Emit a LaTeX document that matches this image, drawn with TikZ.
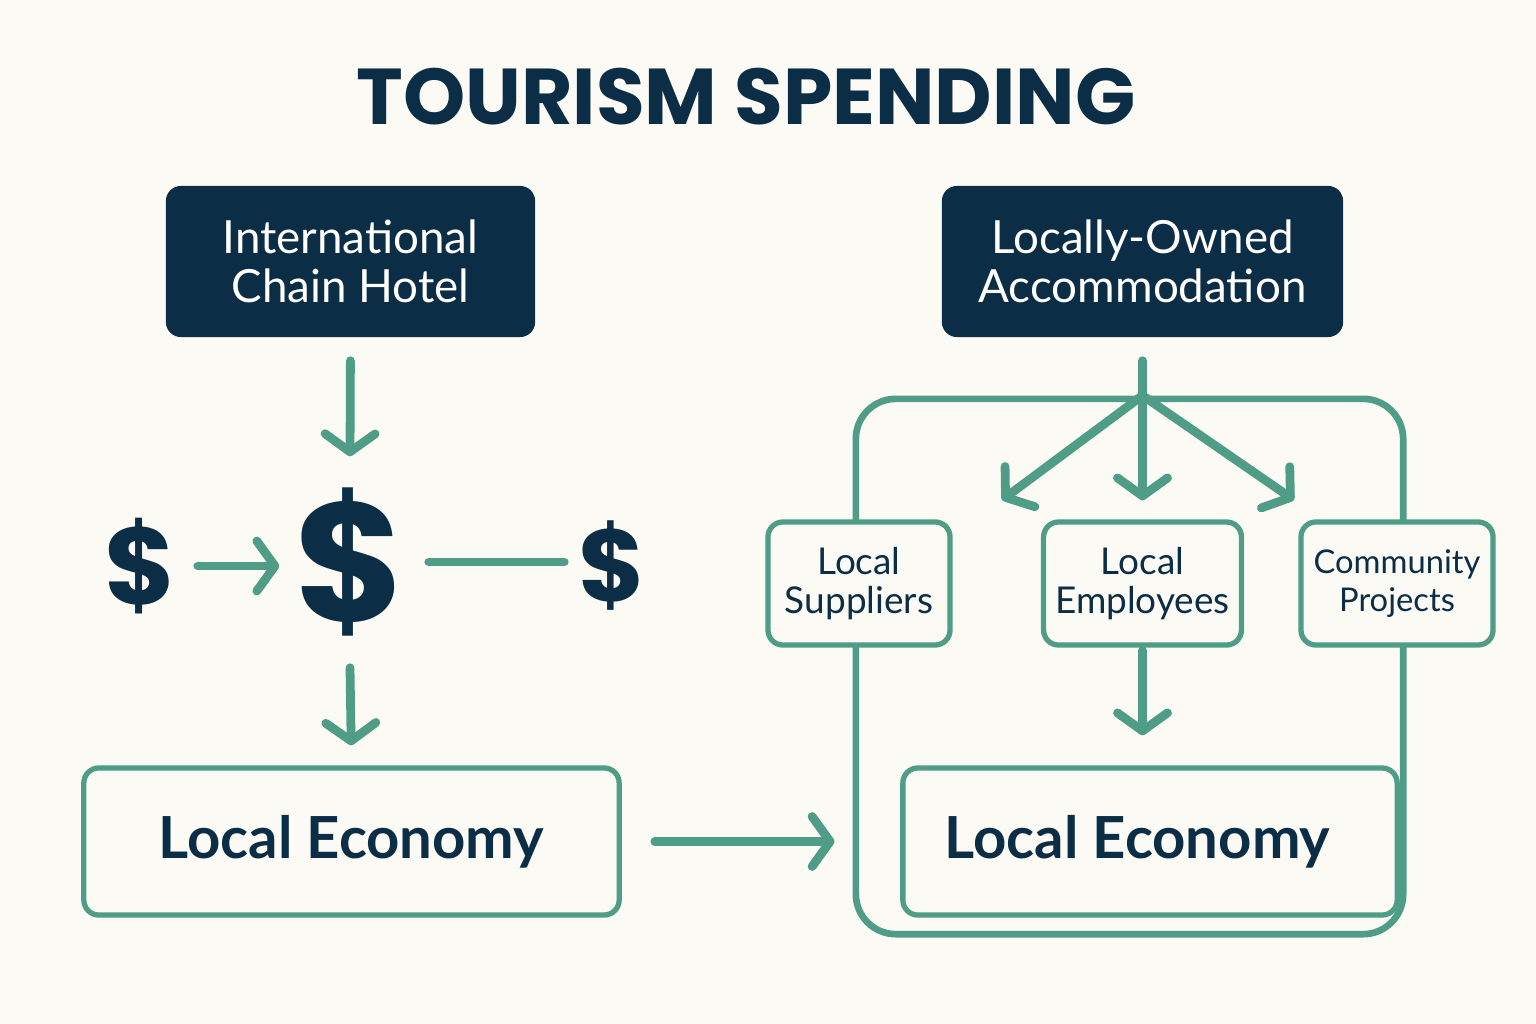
\documentclass[tikz,border=0pt]{standalone}
\usepackage{fontspec}
\setmainfont{Lato}
\newfontfamily\titlefont{Poppins}
\usetikzlibrary{arrows.meta}
\definecolor{navy}{RGB}{11,45,69}
\definecolor{sage}{RGB}{79,157,134}
\definecolor{paper}{RGB}{252,250,244}
\begin{document}
\begin{tikzpicture}[x=0.01cm, y=-0.01cm,
    darkbox/.style={fill=navy, rounded corners=0.15cm, minimum height=1.51cm,
      text=white, align=center, font=\fontsize{13}{14}\selectfont},
    greenbox/.style={draw=sage, fill=paper, line width=1.5pt, rounded corners=0.15cm,
      text=navy, align=center},
    smallbox/.style={greenbox, minimum height=1.23cm, font=\fontsize{10.5}{11}\selectfont},
    econbox/.style={greenbox, minimum height=1.47cm, font=\bfseries\fontsize{16.5}{18}\selectfont},
    dollar/.style={text=navy, inner sep=0pt, font=\titlefont\bfseries},
    link/.style={draw=sage, line width=2.5pt, line cap=round},
    arr/.style={link, -{Straight Barb[length=0.18cm, width=0.5cm, round]}}]

    % Background and page size
    \fill[paper] (0,0) rectangle (1536,1024);
    \useasboundingbox (0,0) rectangle (1536,1024);

    % Title
    \node[text=navy, font=\titlefont\bfseries\fontsize{22.5}{26}\selectfont] (title) at (746,97) {TOURISM SPENDING};

    % Hotel boxes
    \node[darkbox, minimum width=3.69cm] (chain) at (350.5,261.5) {International\\Chain Hotel};
    \node[darkbox, minimum width=4.01cm] (owned) at (1142.5,261.5) {Locally-Owned\\Accommodation};

    % Left side: money leaking away
    \node[dollar, minimum width=1.1cm, font=\titlefont\bfseries\fontsize{31}{31}\selectfont] (dlrA) at (140,566) {\$};
    \node[dollar, minimum width=1.4cm, minimum height=2.1cm, font=\titlefont\bfseries\fontsize{48}{48}\selectfont] (dlrB) at (350,562) {\$};
    \node[dollar, minimum width=0.94cm, font=\titlefont\bfseries\fontsize{29}{29}\selectfont] (dlrC) at (612,566) {\$};
    \node[econbox, minimum width=5.35cm] (econL) at (351.5,841.5) {Local Economy};

    \draw[arr, shorten <=0.23cm] (chain.south) -- (dlrB.north);
    \draw[arr, shorten <=0.02cm] (dlrA.east) -- (dlrA.east -| dlrB.west);
    \draw[link, shorten <=0.08cm] (dlrB.east) -- (dlrB.east -| dlrC.west);
    \draw[arr, shorten >=0.2cm] (dlrB.south) -- (econL.north);

    % Right side: money kept in the community
    \node[draw=sage, line width=1.9pt, rounded corners=0.4cm, minimum width=5.47cm, minimum height=5.35cm] (frame) at (1129.5,666.5) {};
    \node[econbox, minimum width=4.94cm, text width=4.1cm, inner xsep=0.42cm, align=flush left] (econR) at (1150,841.5) {Local Economy};
    \node[smallbox, minimum width=1.82cm] (supp) at (859,583.5) {Local\\Suppliers};
    \node[smallbox, minimum width=1.97cm] (empl) at (1142.5,583.5) {Local\\Employees};
    \node[smallbox, minimum width=1.92cm, font=\fontsize{9.3}{11}\selectfont] (proj) at (1397,583.5) {Community\\Projects};

    \draw[arr, shorten <=0.33cm, shorten >=0.18cm] (econL.east) -- (econL.east -| frame.west);

    % Fork under the local accommodation
    \coordinate (fork) at (owned.south |- frame.north);
    \coordinate (tipL) at (1002,500);
    \coordinate (tipR) at (1294,500);
    \draw[link, shorten <=0.23cm] (owned.south) -- (fork);
    \draw[arr] (fork) -- (tipL);
    \draw[arr, shorten >=0.19cm] (fork) -- (empl.north);
    \draw[arr] (fork) -- (tipR);
    \draw[arr, shorten <=0.03cm, shorten >=0.3cm] (empl.south) -- (empl.south |- econR.north);

\end{tikzpicture}
\end{document}
